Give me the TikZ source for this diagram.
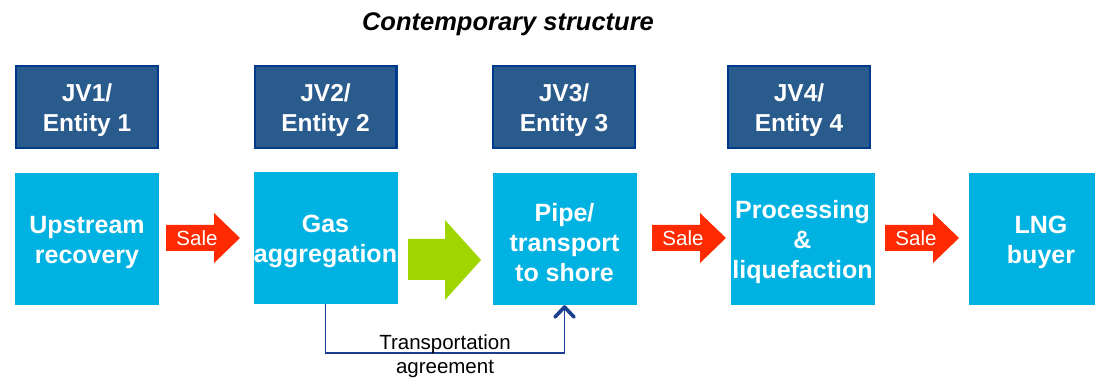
\documentclass[tikz,border=0pt]{standalone}
\usepackage{fontspec}
\setmainfont{Liberation Sans}
\usetikzlibrary{arrows.meta}

\definecolor{jvfill}{HTML}{2A5B8D}
\definecolor{jvline}{HTML}{003A8C}
\definecolor{stageblue}{HTML}{00B2E2}
\definecolor{salered}{HTML}{FF2A00}
\definecolor{flowgreen}{HTML}{9FD600}
\definecolor{linkblue}{HTML}{1B3F8F}

% red "Sale" arrow: #1 node name, #2 left end of the shaft
\newcommand\SaleArrow[2]{%
  \fill[salered] (#2,225) -- ({#2+48},225) -- ({#2+48},213) -- ({#2+74},238)
    -- ({#2+48},263) -- ({#2+48},251) -- (#2,251) -- cycle;
  \node[saletext] (#1) at ({#2+31},238) {Sale};
}

\begin{document}
\begin{tikzpicture}[x=1pt,y=-1pt,
  boxtext/.style={text=white, align=center, inner sep=0pt},
  entity/.style={draw=jvline, line width=2.4pt, fill=jvfill,
    minimum width=141.6pt, minimum height=81.6pt, inner sep=0pt,
    label={[boxtext, font=\bfseries\fontsize{24.5}{30}\selectfont, yshift=-3pt]center:#1}},
  stagebox/.style={fill=stageblue,
    minimum width=144pt, minimum height=132pt, inner sep=0pt,
    label={[boxtext, font=\bfseries\fontsize{25}{30}\selectfont, yshift=-3.5pt]center:#1}},
  saletext/.style={text=white, font=\fontsize{20.5}{24}\selectfont, inner sep=0pt},
  link/.style={draw=linkblue, line width=1.5pt},
]
\useasboundingbox (0,0) rectangle (1095,379);
\clip (0,0) rectangle (1095,379);

% heading
\node[font=\bfseries\itshape\fontsize{25.5}{30}\selectfont, anchor=base]
  (title) at (508,31) {Contemporary structure};

% joint ventures / entities
\node[entity={JV1/\\Entity 1}] (jv1) at (87,107)    {};
\node[entity={JV2/\\Entity 2}] (jv2) at (325.5,107) {};
\node[entity={JV3/\\Entity 3}] (jv3) at (564,107)   {};
\node[entity={JV4/\\Entity 4}] (jv4) at (799,107)   {};

% value chain stages
\node[stagebox={Upstream\\recovery}]           (up)   at (87,239)    {};
\node[stagebox={Gas\\aggregation}]             (gas)  at (325.5,238) {};
\node[stagebox={Pipe/\\transport\\to shore}]   (pipe) at (564.5,239) {};
\node[stagebox={Processing\\\&\\liquefaction}] (proc) at (802.5,239) {};
\node[stagebox={LNG\\buyer}]                   (lng)  at (1041,239)  {};

% sales between stages
\SaleArrow{sale1}{166}
\SaleArrow{sale2}{652}
\SaleArrow{sale3}{885}

% gas flow into the pipeline
\fill[flowgreen] (408,239) -- (445,239) -- (445,220) -- (481,260)
  -- (445,300) -- (445,280) -- (408,280) -- cycle;

% transportation agreement link
\draw[link, -{Straight Barb[length=10pt, width=19pt, line width=3.6pt, line cap=round, line join=round]}]
  (gas.south) -- ++(0,49) -| (pipe.south);
\node[font=\fontsize{20.5}{24}\selectfont, align=center, inner sep=0pt]
  (agree) at (445,356) {Transportation\\agreement};
\end{tikzpicture}
\end{document}
